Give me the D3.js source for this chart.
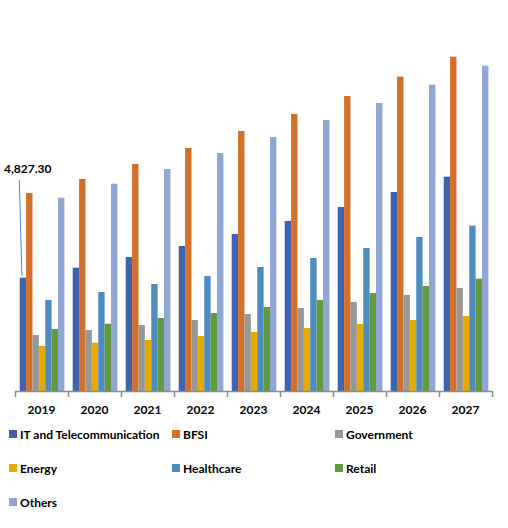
<!DOCTYPE html>
<html>
<head>
<meta charset="utf-8">
<script src="https://cdn.jsdelivr.net/npm/d3@7"></script>
<style>
  body { margin: 0; background: #fff; }
  text { font-family: Lato, "Open Sans", sans-serif; font-weight: bold; }
</style>
</head>
<body>
<div id="chart"></div>
<script>
// Chart data
var years = ['2019', '2020', '2021', '2022', '2023', '2024', '2025', '2026', '2027']
var seriesNames = ['IT and Telecommunication', 'BFSI', 'Government', 'Energy', 'Healthcare', 'Retail', 'Others']
var seriesColors = ['#3E64AD', '#D46F2A', '#979797', '#E5AB02', '#4E8BBF', '#619A3F', '#90A6D5']

var itTelecom = [4827.3, 5253, 5709, 6177, 6689, 7242, 7839, 8478, 9130]
var bfsi = [8435, 9032, 9671, 10352, 11077, 11801, 12568, 13390, 14242]
var government = [2386, 2599, 2812, 3025, 3280, 3536, 3792, 4090, 4388]
var energy = [1917, 2058, 2173, 2343, 2514, 2684, 2854, 3025, 3195]
var healthcare = [3877, 4218, 4558, 4899, 5283, 5666, 6092, 6561, 7042]
var retail = [2641, 2867, 3110, 3323, 3579, 3877, 4175, 4473, 4784]
var others = [8235, 8831, 9458, 10139, 10821, 11545, 12269, 13049, 13858]

var seriesValues = [itTelecom, bfsi, government, energy, healthcare, retail, others]

var svgWidth = 508
var svgHeight = 528

var svg = d3.select('#chart')
  .append('svg')
  .attr('width', svgWidth)
  .attr('height', svgHeight)

// Scales
var x0 = d3.scaleBand()
  .domain(years)
  .range([15, 492])

var x1 = d3.scaleBand()
  .domain(seriesNames)
  .range([4.7, x0.bandwidth() - 3.6])

var baseY = 391
var yScale = d3.scaleLinear()
  .domain([0, 16000])
  .range([baseY, baseY - 16000 / 42.6])

// Bars
var rows = []
years.forEach((yr, i) => {
  seriesNames.forEach((s, j) => {
    rows.push({ year: yr, series: s, value: seriesValues[j][i], color: seriesColors[j] })
  })
})

svg.append('g')
  .selectAll('rect')
  .data(rows)
  .enter()
  .append('rect')
  .attr('x', d => x0(d.year) + x1(d.series))
  .attr('y', d => yScale(d.value))
  .attr('width', x1.bandwidth())
  .attr('height', d => baseY - yScale(d.value))
  .attr('fill', d => d.color)

// X axis
var xAxis = svg.append('g')
  .attr('transform', `translate(0, ${baseY})`)

xAxis.append('line')
  .attr('x1', 15).attr('x2', 492)
  .attr('y1', 0.5).attr('y2', 0.5)
  .attr('stroke', '#8c8c8c')
  .attr('stroke-width', 1.5)

xAxis.selectAll('line.tick')
  .data(years.concat(['end']))
  .enter()
  .append('line')
  .attr('class', 'tick')
  .attr('x1', (d, i) => 15.5 + i * x0.bandwidth())
  .attr('x2', (d, i) => 15.5 + i * x0.bandwidth())
  .attr('y1', 0).attr('y2', 6)
  .attr('stroke', '#8c8c8c')
  .attr('stroke-width', 1.5)

xAxis.selectAll('text')
  .data(years)
  .enter()
  .append('text')
  .attr('x', d => x0(d) + x0.bandwidth() / 2)
  .attr('y', 23)
  .attr('text-anchor', 'middle')
  .style('font-size', '12px')
  .attr('fill', '#000')
  .text(d => d)

// Data label for first bar with leader line
var firstX = x0(years[0]) + x1(seriesNames[0]) + x1.bandwidth() / 2
svg.append('line')
  .attr('x1', 19.3).attr('y1', 180)
  .attr('x2', firstX - 1).attr('y2', yScale(itTelecom[0]) - 2)
  .attr('stroke', '#5b7fc7')
  .attr('stroke-width', 1)

svg.append('text')
  .attr('x', 4)
  .attr('y', 173)
  .style('font-size', '12px')
  .attr('fill', '#000')
  .text(d3.format(',.2f')(itTelecom[0]))

// Legend
var legendCols = [9, 172, 335]
var legendRows = [434, 468, 502]

var legend = svg.append('g')
  .selectAll('g')
  .data(seriesNames)
  .enter()
  .append('g')
  .attr('transform', (d, i) => `translate(${legendCols[i % 3]}, ${legendRows[Math.floor(i / 3)]})`)

legend.append('rect')
  .attr('x', 0).attr('y', -4)
  .attr('width', 8).attr('height', 8)
  .attr('fill', (d, i) => seriesColors[i])

legend.append('text')
  .attr('x', 11)
  .attr('y', 4.5)
  .style('font-size', '12px')
  .attr('fill', '#000')
  .text(d => d)
</script>
</body>
</html>
